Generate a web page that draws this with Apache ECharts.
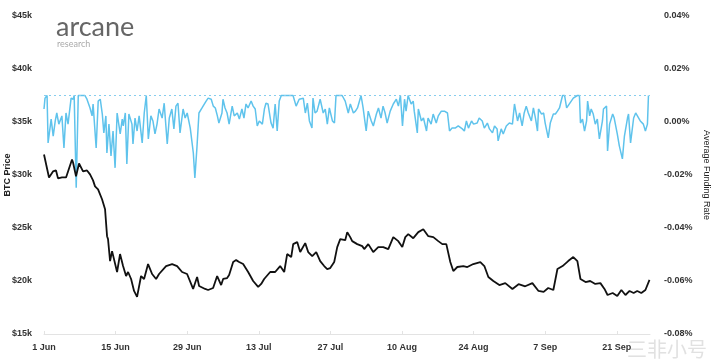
<!DOCTYPE html>
<html>
<head>
<meta charset="utf-8">
<script src="https://cdn.jsdelivr.net/npm/echarts@6/dist/echarts.min.js"></script>
<style>html,body{margin:0;padding:0;background:#fff;}#c{width:719px;height:361px;}</style>
</head>
<body>
<div id="c"></div>
<script>
// x values: days since 1 Jun
var tickLabels = ["1 Jun","15 Jun","29 Jun","13 Jul","27 Jul","10 Aug","24 Aug","7 Sep","21 Sep"];
var priceTicks = ["$15k","$20k","$25k","$30k","$35k","$40k","$45k"];
var rateTicks = ["-0.08%","-0.06%","-0.04%","-0.02%","0.00%","0.02%","0.04%"];

var btcDays = [0,0.98,1.76,2.35,2.74,3.52,4.31,4.7,5.48,5.68,6.26,6.85,7.63,8.41,9.0,9.59,9.98,10.57,11.35,11.55,11.94,12.33,12.52,12.92,13.31,13.7,14.29,14.87,15.46,16.05,16.44,17.03,17.61,18.2,18.98,19.57,20.35,21.14,21.92,22.5,23.87,25.05,26.03,27.0,27.98,29.16,29.94,30.33,30.72,31.51,32.09,33.07,33.86,34.64,35.03,35.81,36.2,36.99,37.57,38.16,38.94,39.92,40.9,41.88,42.47,43.05,44.23,45.2,46.18,46.97,47.55,48.34,48.73,49.51,50.1,51.08,51.66,52.45,53.23,54.01,54.79,55.38,55.97,56.75,57.34,57.93,58.9,59.3,59.88,60.27,61.25,62.23,62.62,63.41,64.38,65.36,66.34,67.32,68.3,69.28,70.06,70.65,71.23,72.21,73.19,74.17,75.15,76.13,77.1,77.89,78.67,79.45,80.04,80.82,82.0,82.78,83.95,85.32,86.11,86.89,87.87,89.04,90.2,91.6,92.8,94.1,95.5,96.7,97.7,98.6,99.6,100.4,101.4,102.5,103.5,104.3,104.9,105.9,106.8,107.8,108.8,109.6,110.2,111.2,112.1,112.9,113.7,114.5,115.3,116.0,116.8,117.6,118.4];
var btcPrice = [31940,29770,30340,30430,29680,29770,29770,29870,31470,31180,29870,31090,30340,30430,30060,29490,28930,28650,27710,27890,26770,24230,23950,21880,22820,22730,20850,22540,21410,20470,20850,20190,19060,18500,20470,20190,21600,20660,20190,20660,21410,21600,21410,20850,20660,19250,20380,19530,19440,19250,19150,19340,20470,19620,20190,20280,20560,21790,21970,21790,21600,20850,20000,19440,19720,20190,20850,20850,21410,20850,22540,22260,23480,23670,22730,23570,22730,22350,22730,21880,21410,21130,21220,21790,23200,23950,23850,24610,24140,23760,23480,23290,23010,23480,22730,23200,23200,23010,24140,23760,23200,24140,24420,24040,24610,24890,24230,24140,23760,23480,23480,21790,20940,21320,21410,21320,21600,21790,21410,20380,20000,19620,19800,19250,19700,19500,19800,19060,18970,19340,19150,21130,21410,21880,22260,21880,20190,19900,20000,19720,19800,19250,18680,18870,18590,19150,18680,19060,18870,19060,18870,19150,20100];

var fundDays = [0.0,0.2,0.6,0.8,1.4,1.8,2.2,2.5,2.9,3.5,3.9,4.3,4.7,5.3,5.7,5.9,6.3,6.7,7.4,8.0,8.4,9.0,9.4,9.6,10.2,10.6,11.0,11.4,11.7,12.1,12.3,12.7,13.1,13.5,13.9,14.3,14.9,15.3,15.5,15.9,16.2,16.6,17.2,17.4,17.8,18.2,18.6,19.2,19.6,20.0,20.4,20.9,21.3,21.7,22.1,22.5,23.1,23.5,24.1,24.5,25.0,25.4,25.8,26.2,26.6,27.2,27.6,28.0,28.6,29.2,29.5,29.9,30.3,30.9,31.1,31.7,32.1,32.7,33.1,33.5,33.9,34.2,34.8,35.0,35.4,35.8,36.2,36.8,37.2,37.8,38.2,38.7,39.1,39.5,39.9,40.5,40.9,41.3,41.7,42.1,42.7,43.1,43.4,43.8,44.4,44.8,45.2,45.6,46.0,46.4,48.7,49.3,49.9,50.7,51.1,51.5,51.9,52.4,52.6,53.0,53.4,54.0,54.6,55.0,55.4,55.8,56.4,56.8,57.1,58.3,58.9,59.5,59.9,60.5,60.9,61.3,62.0,62.4,63.0,63.4,64.0,64.4,65.0,65.4,65.9,66.3,66.7,67.1,67.7,68.3,68.9,69.3,69.7,70.1,70.5,70.8,71.2,71.8,72.2,72.4,73.0,73.2,73.8,74.2,74.8,75.1,75.7,76.1,76.7,77.1,77.7,78.3,78.9,79.3,79.8,80.4,81.0,81.8,82.2,82.6,83.0,83.6,84.0,84.7,85.1,85.7,86.1,86.7,87.1,87.7,88.1,88.6,88.8,89.4,89.8,90.4,91.0,91.6,92.0,92.6,93.0,93.5,93.9,94.3,94.7,95.3,95.7,96.1,96.5,96.7,97.3,97.7,98.0,98.6,99.0,99.6,100.0,100.4,100.8,101.4,101.8,102.2,102.5,103.1,103.5,104.3,104.7,104.9,105.3,105.7,106.1,106.3,106.7,107.0,107.4,107.8,108.2,108.6,109.2,109.4,110.0,110.2,110.6,111.2,111.5,112.1,112.5,113.1,113.5,114.1,114.3,114.7,115.3,115.7,116.0,116.6,117.2,117.6,118.0,118.2];
var fundRate = [0.0049,0.009,0.01,-0.0079,0.0011,-0.0053,0.0004,0.0034,-0.0008,0.0023,-0.0098,0.0034,-0.0008,0.009,0.0086,0.01,-0.0248,0.01,0.01,0.01,0.0086,0.0053,0.0023,0.0068,-0.0098,0.0079,0.0086,0.003,-0.0041,0.0023,-0.0117,-0.0008,-0.0128,-0.0034,-0.0173,0.0034,-0.0045,0.0011,-0.0015,0.0034,-0.0158,0.003,-0.0008,-0.0083,0.0015,-0.0034,0.0023,-0.0079,0.0034,0.01,-0.0064,0.0023,0.0004,-0.0045,-0.0008,0.0049,0.0015,0.0071,-0.0083,0.0015,0.0049,-0.0026,0.006,0.0071,-0.0041,0.0049,0.0015,0.0034,-0.0023,-0.0117,-0.0211,-0.0098,0.0034,0.0053,0.0049,0.0079,0.009,0.0086,0.006,0.0053,0.0023,-0.0004,0.0034,0.0086,0.0053,0.0034,-0.0008,0.006,0.0023,0.0034,0.0011,0.0049,0.0015,0.0068,0.0053,0.0079,0.006,0.0049,-0.0015,0.0004,-0.0008,0.0049,0.0071,0.0068,-0.0004,-0.0023,0.0068,-0.0034,0.0079,0.01,0.01,0.006,0.0086,0.009,0.0034,0.0071,0.0004,-0.0023,0.009,0.0034,0.0041,0.0086,0.0034,0.0049,-0.0008,0.0053,0.0004,-0.0004,0.01,0.01,0.0079,0.0034,0.0068,0.0034,0.0041,0.0053,0.01,0.0053,-0.0034,0.0041,0.0004,-0.0015,0.003,0.0053,0.0015,0.006,0.0034,-0.0004,0.0041,0.0068,0.0086,0.006,0.01,-0.0015,0.0086,0.0041,0.01,0.0068,0.0079,0.0041,-0.0041,0.0049,0.0004,0.0015,-0.0034,0.0015,-0.0008,0.003,-0.0004,0.0023,0.0041,0.0041,0.0034,-0.0034,-0.0023,-0.0023,-0.0015,-0.0026,-0.0034,0.0004,-0.0023,0.0004,-0.0008,-0.0004,0.0015,0.0004,-0.0023,-0.0004,-0.0026,-0.0041,-0.0015,-0.0026,-0.0071,-0.0026,-0.0045,-0.0015,-0.0004,-0.0008,0.0068,0.0004,0.0034,-0.0015,0.0034,0.006,0.0034,0.0004,0.0053,0.0015,-0.0034,0.0049,0.003,0.0034,-0.0004,-0.006,-0.0004,0.003,0.003,0.0041,0.0053,0.01,0.01,0.0053,0.006,0.0079,0.009,0.01,0.01,-0.0004,0.0011,-0.0034,0.0004,0.0079,0.0023,0.0049,0.003,-0.0008,0.0011,-0.0064,0.0004,0.0049,0.006,-0.0109,-0.0008,0.003,0.0015,-0.0045,-0.009,-0.0139,-0.0053,0.0015,0.003,-0.0079,0.0015,0.0034,0.003,0.0004,-0.0008,-0.0034,-0.0008,0.01];
var fundCap = 0.01;

var btcData = btcDays.map(function(d,i){return [d, btcPrice[i]];});
var fundData = fundDays.map(function(d,i){return [d, fundRate[i]];});

var chart = echarts.init(document.getElementById('c'), null, {renderer:'canvas'});
var lblStyle = {color:'#333', fontSize:9, fontWeight:'bold', fontFamily:'Liberation Sans, Arial, sans-serif'};
chart.setOption({
  backgroundColor:'#fff',
  animation:false,
  grid:{left:44, right:69, top:16, bottom:27, containLabel:false, outerBoundsMode:'none'},
  xAxis:{
    type:'value', min:0, max:118.5, interval:14,
    axisLine:{show:true, onZero:false, lineStyle:{color:'#e3e3e3', width:1}},
    axisTick:{show:true, length:3, inside:true, lineStyle:{color:'#e3e3e3'}},
    splitLine:{show:false},
    axisLabel:Object.assign({margin:9, showMaxLabel:false, formatter:function(v){var i=Math.round(v/14);return (Math.abs(v-i*14)<1e-6 && tickLabels[i])?tickLabels[i]:'';}}, lblStyle)
  },
  yAxis:[{
    type:'value', min:15000, max:45000, interval:5000, position:'left',
    name:'BTC Price', nameLocation:'middle', nameGap:32, nameRotate:90, nameMoveOverlap:false,
    nameTextStyle:{color:'#222', fontSize:9, fontWeight:'bold', fontFamily:'Liberation Sans, Arial, sans-serif'},
    axisLine:{show:false}, axisTick:{show:false}, splitLine:{show:false},
    axisLabel:Object.assign({margin:12, formatter:function(v){return priceTicks[Math.round((v-15000)/5000)];}}, lblStyle)
  },{
    type:'value', min:-0.08, max:0.04, interval:0.02, position:'right',
    name:'Average Funding Rate', nameLocation:'middle', nameGap:52, nameRotate:-90, nameMoveOverlap:false,
    nameTextStyle:{color:'#222', fontSize:9, fontWeight:'normal', fontFamily:'Liberation Sans, Arial, sans-serif'},
    axisLine:{show:false}, axisTick:{show:false}, splitLine:{show:false},
    axisLabel:Object.assign({margin:14, formatter:function(v){return rateTicks[Math.round((v+0.08)/0.02)];}}, lblStyle)
  }],
  series:[{
    type:'line', name:'Funding', yAxisIndex:1, data:fundData, showSymbol:false, symbol:'none',
    lineStyle:{color:'#5fc3ec', width:1.5}, z:2,
    markLine:{silent:true, symbol:['none','none'], label:{show:false},
      lineStyle:{color:'#86cdee', type:[2,3], width:1}, data:[{yAxis:fundCap}]}
  },{
    type:'line', name:'BTC', yAxisIndex:0, data:btcData, showSymbol:false, symbol:'none',
    lineStyle:{color:'#111', width:1.8}, z:3
  }],
  graphic:[
    {type:'text', left:56, top:14, style:{text:'arcane', fill:'#666', font:'400 27px Lato, "Open Sans", sans-serif'}},
    {type:'text', left:57, top:40, style:{text:'research', fill:'#aaa', font:'400 9px Lato, "Open Sans", sans-serif'}},
    {type:'text', left:627, top:339, style:{text:'三非小号', fill:'rgba(200,200,200,0.55)', font:'20px "Noto Sans CJK SC", sans-serif'}}
  ]
});
</script>
</body>
</html>
